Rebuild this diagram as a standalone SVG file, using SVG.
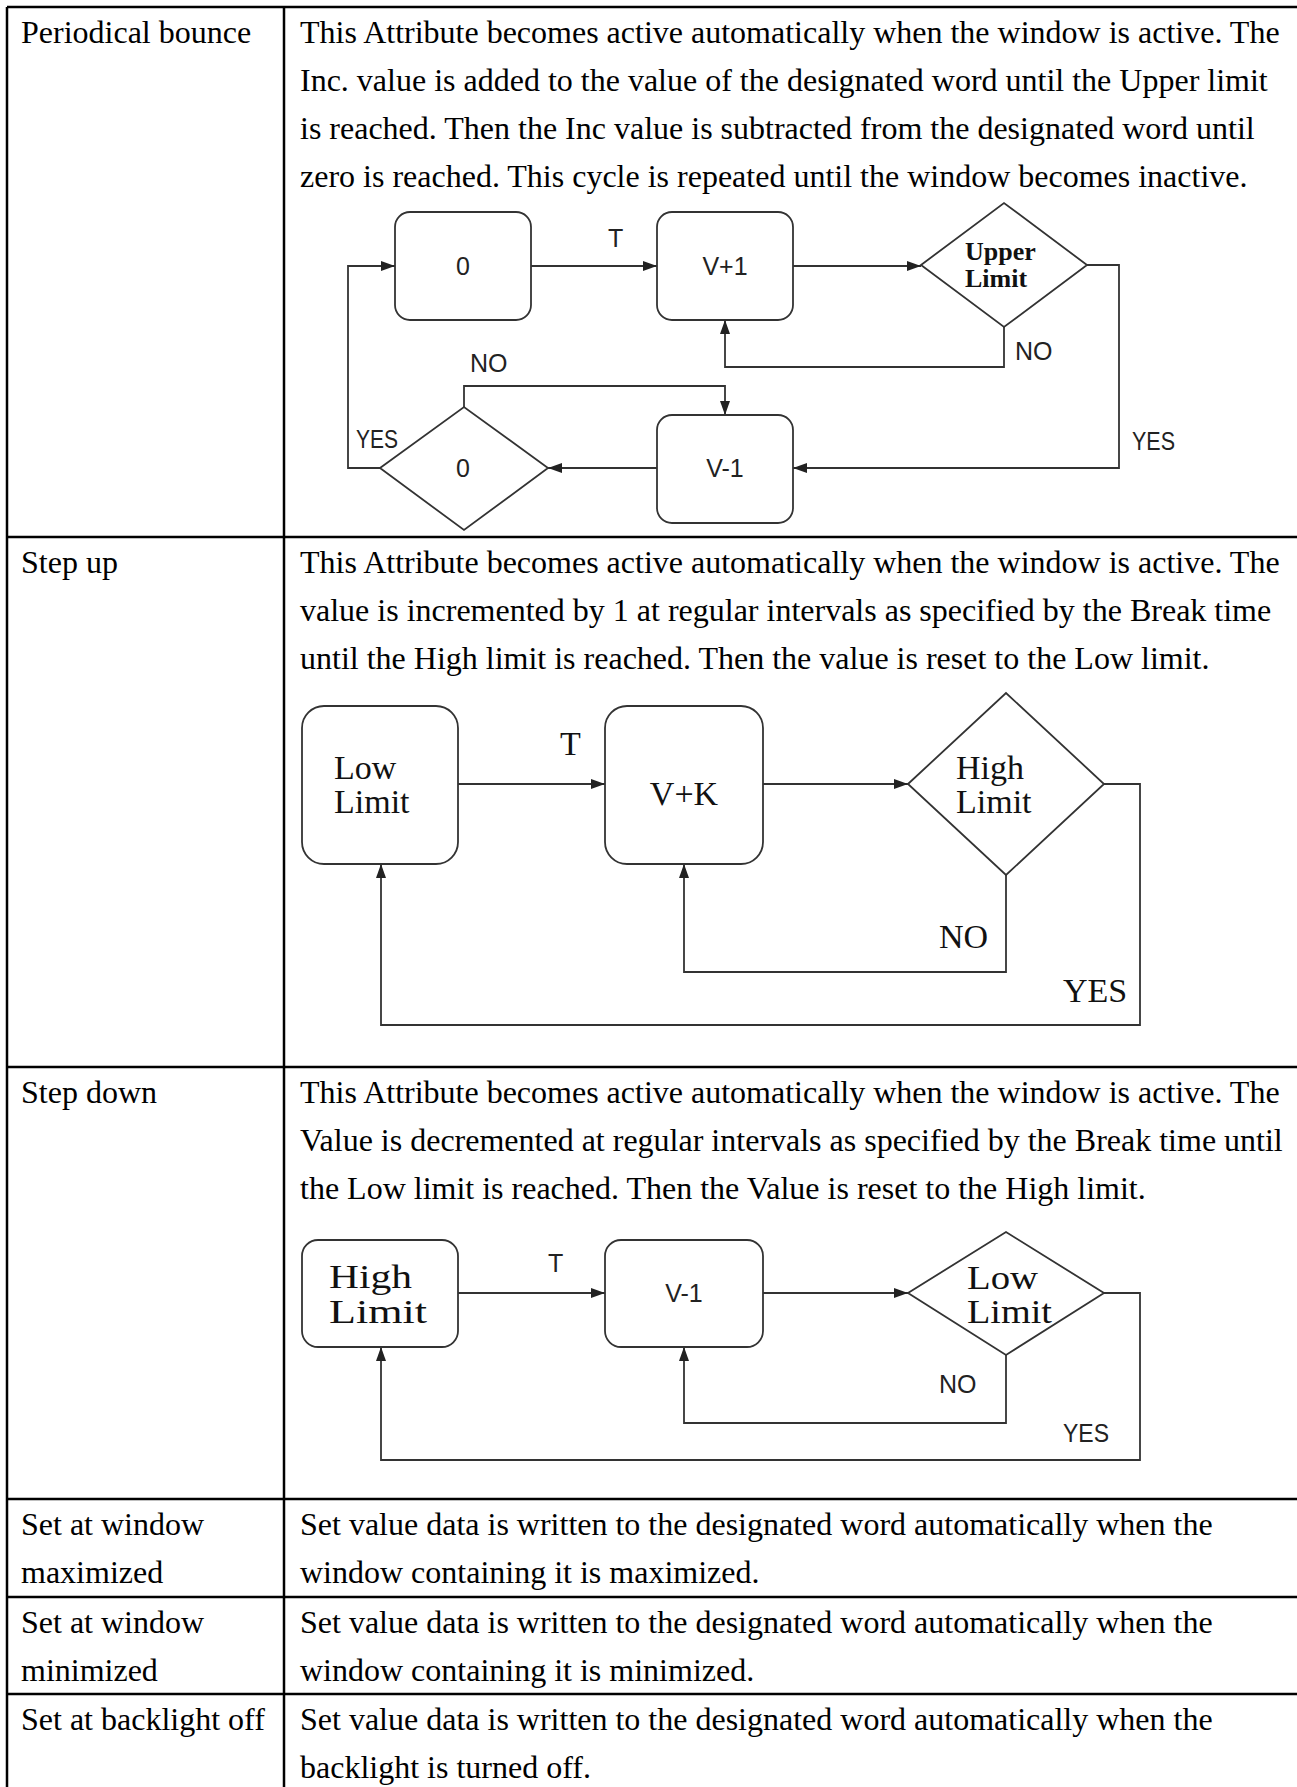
<svg xmlns="http://www.w3.org/2000/svg" width="1297" height="1787" viewBox="0 0 1297 1787">
<style>
.tb{stroke:#000;stroke-width:2.5;fill:none}
.body{font-family:"Liberation Serif","Times New Roman",serif;font-size:32px;fill:#000}
.shape{fill:#fff;stroke:#333;stroke-width:1.8}
.conn{fill:none;stroke:#333;stroke-width:1.8;marker-end:url(#ah)}
.lbl{font-family:"Liberation Sans",Arial,sans-serif;font-size:25px;fill:#222}
.ser{font-family:"Liberation Serif","Times New Roman",serif;font-size:34px;fill:#111}
.bold{font-weight:bold}
.mid{text-anchor:middle}
</style>
<defs>
<marker id="ah" markerWidth="14" markerHeight="10" refX="14" refY="5" orient="auto" markerUnits="userSpaceOnUse"><path d="M0,0 L14,5 L0,10 z" fill="#222"/></marker>
</defs>
<rect width="1297" height="1787" fill="#fff"/>
<g id="table">
<line class="tb" x1="7" y1="7" x2="1297" y2="7"/>
<line class="tb" x1="7" y1="7" x2="7" y2="1787"/>
<line class="tb" x1="284" y1="7" x2="284" y2="1787"/>
<line class="tb" x1="7" y1="537" x2="1297" y2="537"/>
<line class="tb" x1="7" y1="1067" x2="1297" y2="1067"/>
<line class="tb" x1="7" y1="1499" x2="1297" y2="1499"/>
<line class="tb" x1="7" y1="1597" x2="1297" y2="1597"/>
<line class="tb" x1="7" y1="1694" x2="1297" y2="1694"/>
</g>
<g id="text-left" class="body">
<text x="21" y="43">Periodical bounce</text>
<text x="21" y="573">Step up</text>
<text x="21" y="1103">Step down</text>
<text x="21" y="1535">Set at window</text>
<text x="21" y="1583">maximized</text>
<text x="21" y="1633">Set at window</text>
<text x="21" y="1681">minimized</text>
<text x="21" y="1730">Set at backlight off</text>
</g>
<g id="text-right" class="body">
<text x="300" y="43">This Attribute becomes active automatically when the window is active. The</text>
<text x="300" y="91">Inc. value is added to the value of the designated word until the Upper limit</text>
<text x="300" y="139">is reached. Then the Inc value is subtracted from the designated word until</text>
<text x="300" y="187">zero is reached. This cycle is repeated until the window becomes inactive.</text>
<text x="300" y="573">This Attribute becomes active automatically when the window is active. The</text>
<text x="300" y="621">value is incremented by 1 at regular intervals as specified by the Break time</text>
<text x="300" y="669">until the High limit is reached. Then the value is reset to the Low limit.</text>
<text x="300" y="1103">This Attribute becomes active automatically when the window is active. The</text>
<text x="300" y="1151">Value is decremented at regular intervals as specified by the Break time until</text>
<text x="300" y="1199">the Low limit is reached. Then the Value is reset to the High limit.</text>
<text x="300" y="1535">Set value data is written to the designated word automatically when the</text>
<text x="300" y="1583">window containing it is maximized.</text>
<text x="300" y="1633">Set value data is written to the designated word automatically when the</text>
<text x="300" y="1681">window containing it is minimized.</text>
<text x="300" y="1730">Set value data is written to the designated word automatically when the</text>
<text x="300" y="1778">backlight is turned off.</text>
</g>
<!-- Diagram 1: Periodical bounce -->
<g id="d1-connectors">
<path class="conn" d="M531,266 H657"/>
<path class="conn" d="M793,266 H921"/>
<path class="conn" d="M1004,327 V367 H725 V320"/>
<path class="conn" d="M1087,265 H1119 V468 H793"/>
<path class="conn" d="M657,468 H548"/>
<path class="conn" d="M464,407 V386 H725 V415"/>
<path class="conn" d="M380,468 H348 V266 H395"/>
</g>
<g id="d1-zero"><rect class="shape" x="395" y="212" width="136" height="108" rx="15"/><text class="lbl mid" x="463" y="275">0</text></g>
<g id="d1-inc"><rect class="shape" x="657" y="212" width="136" height="108" rx="15"/><text class="lbl mid" x="725" y="275">V+1</text></g>
<g id="d1-upper"><polygon class="shape" points="921,265 1004,203 1087,265 1004,327"/><text class="ser bold" style="font-size:26px" x="965" y="260">Upper</text><text class="ser bold" style="font-size:26px" x="965" y="287">Limit</text></g>
<g id="d1-dec"><rect class="shape" x="657" y="415" width="136" height="108" rx="15"/><text class="lbl mid" x="725" y="477">V-1</text></g>
<g id="d1-zerocheck"><polygon class="shape" points="380,468 464,407 548,468 464,530"/><text class="lbl mid" x="463" y="477">0</text></g>
<g id="d1-labels" class="lbl">
<text x="608" y="247">T</text>
<text x="1015" y="360">NO</text>
<text x="1132" y="450" textLength="43" lengthAdjust="spacingAndGlyphs">YES</text>
<text x="470" y="372">NO</text>
<text x="356" y="448" textLength="42" lengthAdjust="spacingAndGlyphs">YES</text>
</g>
<!-- Diagram 2: Step up -->
<g id="d2-connectors">
<path class="conn" d="M458,784 H605"/>
<path class="conn" d="M763,784 H908"/>
<path class="conn" d="M1006,875 V972 H684 V864"/>
<path class="conn" d="M1104,784 H1140 V1025 H381 V864"/>
</g>
<g id="d2-low"><rect class="shape" x="302" y="706" width="156" height="158" rx="22"/><text class="ser" x="334" y="779">Low</text><text class="ser" x="334" y="813">Limit</text></g>
<g id="d2-vk"><rect class="shape" x="605" y="706" width="158" height="158" rx="22"/><text class="ser mid" x="684" y="805">V+K</text></g>
<g id="d2-high"><polygon class="shape" points="908,784 1006,693 1104,784 1006,875"/><text class="ser" x="956" y="779">High</text><text class="ser" x="956" y="813">Limit</text></g>
<g id="d2-labels" class="ser">
<text x="560" y="755">T</text>
<text x="939" y="948">NO</text>
<text x="1063" y="1002">YES</text>
</g>
<!-- Diagram 3: Step down -->
<g id="d3-connectors">
<path class="conn" d="M458,1293 H605"/>
<path class="conn" d="M763,1293 H908"/>
<path class="conn" d="M1006,1355 V1423 H684 V1347"/>
<path class="conn" d="M1104,1293 H1140 V1460 H381 V1347"/>
</g>
<g id="d3-high"><rect class="shape" x="302" y="1240" width="156" height="107" rx="16"/><text class="ser" x="329" y="1288" textLength="83" lengthAdjust="spacingAndGlyphs">High</text><text class="ser" x="329" y="1323" textLength="98" lengthAdjust="spacingAndGlyphs">Limit</text></g>
<g id="d3-dec"><rect class="shape" x="605" y="1240" width="158" height="107" rx="16"/><text class="lbl mid" x="684" y="1302">V-1</text></g>
<g id="d3-low"><polygon class="shape" points="908,1293 1006,1232 1104,1293 1006,1355"/><text class="ser" x="967" y="1289" textLength="71" lengthAdjust="spacingAndGlyphs">Low</text><text class="ser" x="967" y="1323" textLength="85" lengthAdjust="spacingAndGlyphs">Limit</text></g>
<g id="d3-labels" class="lbl">
<text x="548" y="1272">T</text>
<text x="939" y="1393">NO</text>
<text x="1063" y="1442" textLength="46" lengthAdjust="spacingAndGlyphs">YES</text>
</g>
</svg>
